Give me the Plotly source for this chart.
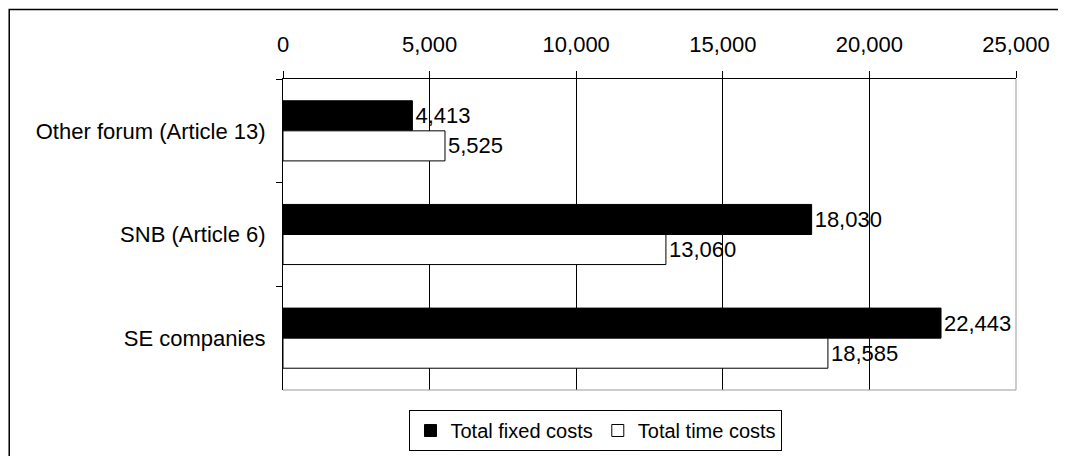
import plotly.graph_objects as go

categories = ["Other forum (Article 13)", "SNB (Article 6)", "SE companies"]
fixed_costs = [4413, 18030, 22443]
time_costs = [5525, 13060, 18585]
tick_vals = [0, 5000, 10000, 15000, 20000, 25000]

font_family = "Liberation Sans, Arial, sans-serif"

fig = go.Figure()

fig.add_trace(go.Bar(
    name="Total fixed costs",
    y=categories, x=fixed_costs, orientation="h",
    marker=dict(color="black", line=dict(color="black", width=1)),
    texttemplate="%{x:,}", textposition="outside",
    textfont=dict(size=22, color="black"), cliponaxis=False
))
fig.add_trace(go.Bar(
    name="Total time costs",
    y=categories, x=time_costs, orientation="h",
    marker=dict(color="white", line=dict(color="black", width=1)),
    texttemplate="%{x:,}", textposition="outside",
    textfont=dict(size=22, color="black"), cliponaxis=False
))

# gray right and bottom edges of the plot area
fig.add_shape(type="line", xref="paper", yref="paper", x0=1, x1=1, y0=0, y1=1,
              line=dict(color="#999999", width=1))
fig.add_shape(type="line", xref="paper", yref="paper", x0=0, x1=1, y0=0, y1=0,
              line=dict(color="#999999", width=1))

# outer chart border (runs past the right and bottom edge like the original)
fig.add_shape(type="rect", xref="paper", yref="paper",
              x0=-0.3735, x1=1.2, y0=-0.4, y1=1.2235,
              line=dict(color="black", width=1.5), layer="below")

# the page body keeps an 8px margin, so the figure is 8px smaller than the window
fig.update_layout(
    width=1058, height=448,
    margin=dict(l=275, r=50, t=71, b=66),
    barmode="group", bargap=0.42, bargroupgap=0,
    plot_bgcolor="white", paper_bgcolor="white",
    font=dict(family=font_family, size=22, color="black"),
    showlegend=True,
    legend=dict(
        orientation="h", x=0.427, y=0.1027, xanchor="center", yanchor="top",
        xref="paper", yref="container",
        bordercolor="black", borderwidth=1, font=dict(size=20),
        itemwidth=30, tracegroupgap=0
    ),
    xaxis=dict(
        side="top", range=[0, 25000], tickvals=tick_vals, tickformat=",",
        showgrid=True, gridcolor="black", gridwidth=1, zeroline=False,
        showline=True, linecolor="black", linewidth=1,
        ticks="outside", ticklen=7, tickcolor="black",
        ticklabelstandoff=10, automargin=False
    ),
    yaxis=dict(
        autorange="reversed", showgrid=False, zeroline=False,
        showline=True, linecolor="black", linewidth=1,
        ticks="outside", tickson="boundaries", ticklen=6, tickcolor="black",
        ticklabelstandoff=12, automargin=False
    )
)

fig.write_html("out.html")
